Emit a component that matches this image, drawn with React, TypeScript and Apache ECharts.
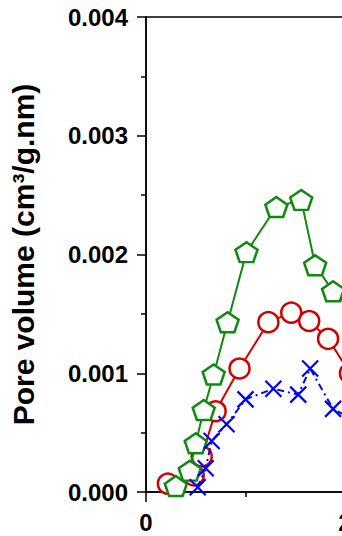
import React, { useEffect, useRef } from "react";
import * as echarts from "echarts";

// Pore diameter (nm) and pore volume (cm3/g.nm)
const redX = [0.22, 0.48, 0.56, 0.70, 0.94, 1.23, 1.46, 1.64, 1.83, 2.05];
const redY = [0.00007, 0.00014, 0.0003, 0.00068, 0.00104, 0.00143, 0.00151, 0.00144, 0.00129, 0.001];

const greenX = [0.3, 0.44, 0.5, 0.58, 0.68, 0.82, 1.01, 1.31, 1.56, 1.7, 1.88, 2.1];
const greenY = [0.00005, 0.00018, 0.00041, 0.00069, 0.00099, 0.00143, 0.00202, 0.0024, 0.00246, 0.00191, 0.00169, 0.0015];

const blueX = [0.52, 0.6, 0.66, 0.81, 1.0, 1.28, 1.53, 1.65, 1.88, 2.1];
const blueY = [0.00004, 0.0002, 0.00043, 0.00057, 0.00078, 0.00087, 0.00082, 0.00104, 0.0007, 0.0006];

const yTitle = "Pore volume (cm³/g.nm)";

const FONT = "'Liberation Sans', Arial, sans-serif";

const PENTAGON = "path://M10,0 L19.51,6.91 L15.88,18.09 L4.12,18.09 L0.49,6.91 Z";
const CROSS = "path://M0,0 L10,10 M10,0 L0,10";

function pairs(xs: number[], ys: number[]) {
  return xs.map((x, i) => [x, ys[i]]);
}

export default function App() {
  const ref = useRef<HTMLDivElement>(null);
  useEffect(() => {
    if (!ref.current) return;
    const chart = echarts.init(ref.current, undefined, { renderer: "svg" });
    chart.setOption({
      animation: false,
      backgroundColor: "#fff",
      grid: {
        left: 146,
        top: 17,
        width: 398,
        height: 475,
        show: true,
        borderColor: "#000",
        borderWidth: 1.5,
        backgroundColor: "transparent",
      },
      xAxis: {
        type: "value",
        min: 0,
        max: 4,
        interval: 2,
        axisLine: { show: true, onZero: false, lineStyle: { color: "#000", width: 1.5 } },
        axisTick: { show: true, inside: false, length: 10, lineStyle: { color: "#000", width: 1.5 } },
        minorTick: { show: true, splitNumber: 2, length: 5, lineStyle: { color: "#000", width: 1.5 } },
        splitLine: { show: false },
        axisLabel: {
          color: "#000",
          fontFamily: FONT,
          fontWeight: "bold",
          fontSize: 24,
          margin: 18,
        },
      },
      yAxis: {
        type: "value",
        min: 0,
        max: 0.004,
        interval: 0.001,
        name: yTitle,
        nameLocation: "middle",
        nameGap: 108,
        nameTextStyle: {
          color: "#000",
          fontFamily: FONT,
          fontWeight: "bold",
          fontSize: 30,
        },
        axisLine: { show: true, lineStyle: { color: "#000", width: 1.5 } },
        axisTick: { show: true, inside: false, length: 9, lineStyle: { color: "#000", width: 1.5 } },
        minorTick: { show: true, splitNumber: 2, length: 5, lineStyle: { color: "#000", width: 1.5 } },
        splitLine: { show: false },
        axisLabel: {
          color: "#000",
          fontFamily: FONT,
          fontWeight: "bold",
          fontSize: 24,
          margin: 18,
          formatter: (v: number) => v.toFixed(3),
        },
      },
      series: [
        {
          type: "line",
          data: pairs(redX, redY),
          symbol: "circle",
          symbolSize: 20,
          showAllSymbol: true,
          lineStyle: { color: "#d00000", width: 2 },
          itemStyle: { color: "#fff", borderColor: "#d00000", borderWidth: 2.5 },
          z: 2,
        },
        {
          type: "line",
          data: pairs(greenX, greenY),
          symbol: PENTAGON,
          symbolSize: [22, 21],
          symbolKeepAspect: true,
          showAllSymbol: true,
          lineStyle: { color: "#118811", width: 2 },
          itemStyle: { color: "#fff", borderColor: "#118811", borderWidth: 2.5 },
          z: 3,
        },
        {
          type: "line",
          data: pairs(blueX, blueY),
          symbol: CROSS,
          symbolSize: 16,
          showAllSymbol: true,
          lineStyle: { color: "#0000ff", width: 2, type: [7, 4, 2, 4] },
          itemStyle: { color: "none", borderColor: "#0000ff", borderWidth: 2.2 },
          z: 4,
        },
      ],
    });
    return () => chart.dispose();
  }, []);

  return (
    <div
      style={{
        position: "fixed",
        left: 0,
        top: 0,
        width: 342,
        height: 536,
        overflow: "hidden",
        background: "#fff",
      }}
    >
      <div ref={ref} style={{ width: 600, height: 536 }} />
    </div>
  );
}
